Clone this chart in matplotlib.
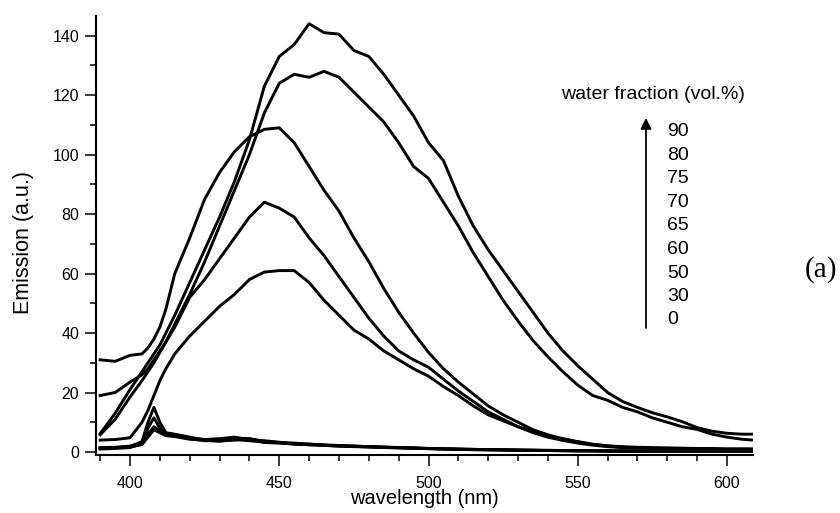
import matplotlib
matplotlib.use('Agg')
import matplotlib.pyplot as plt
from matplotlib.ticker import MultipleLocator

plt.rcParams['font.family'] = ['Liberation Sans', 'DejaVu Sans']

# emission spectra (a.u.)
wavelength = [390, 395, 400, 404, 406, 408, 410, 412, 415, 420, 425, 430, 435, 440,
              445, 450, 455, 460, 465, 470, 475, 480, 485, 490, 495, 500, 505, 510,
              515, 520, 525, 530, 535, 540, 545, 550, 555, 560, 565, 570, 575, 580,
              585, 590, 595, 600, 605, 609]

em_90 = [6.2, 13, 21, 27, 30, 33, 36, 40, 46, 57, 68, 79, 91, 105,
         123, 133, 137, 144, 141, 140.5, 135, 133, 127, 120, 113, 104, 98, 86,
         76, 68, 61, 54, 47, 40, 34, 29, 24.5, 20, 17, 15, 13.2, 11.8,
         10.2, 8.2, 7, 6.3, 6, 6]
em_80 = [5.8, 11, 18.5, 24, 27, 30, 33.5, 37, 43, 53, 64, 76, 88, 100,
         114, 124, 127, 126, 128, 126, 121, 116, 111, 104, 96, 92, 84, 76,
         67, 59, 51, 44, 37.5, 32, 27, 22.5, 19, 17.4, 15, 13.5, 11.5, 10,
         8.5, 7.6, 6, 5, 4.3, 4]
em_75 = [31, 30.5, 32.5, 33, 35, 38, 42, 48, 60, 72, 85, 94, 101, 106,
         108.5, 109, 104, 96, 88, 81, 72, 64, 55, 47, 40, 33.5, 28, 23.5,
         19.5, 15.5, 12.5, 10, 7.5, 5.8, 4.4, 3.4, 2.6, 2.1, 1.8, 1.6, 1.5, 1.4,
         1.3, 1.2, 1.2, 1.1, 1.1, 1.1]
em_70 = [19, 20, 23.5, 26, 28, 31, 34, 37, 42, 52, 58, 65, 72, 79,
         84, 82, 79, 72, 66, 59, 52, 45, 39, 34, 31, 28.5, 24.5, 20.5,
         17, 13.5, 11, 8.5, 6.5, 5, 3.9, 3, 2.3, 1.8, 1.5, 1.3, 1.2, 1.1,
         1, 0.9, 0.9, 0.8, 0.8, 0.8]
em_65 = [4, 4.2, 4.8, 10, 14, 19, 24, 28, 33, 39, 44, 49, 53, 58,
         60.5, 61, 61, 57, 51, 46, 41, 38, 34, 31, 28, 25.5, 22, 19,
         15.5, 12.5, 10.5, 8.5, 7, 5.5, 4.5, 3.5, 2.6, 2, 1.6, 1.4, 1.2, 1.1,
         1, 0.9, 0.8, 0.8, 0.7, 0.7]
em_60 = [1.2, 1.4, 1.8, 3.5, 10, 15, 10, 6.5, 6, 5, 4, 4, 4.5, 4.5,
         3.5, 3.2, 3, 2.6, 2.4, 2.2, 2, 1.8, 1.6, 1.5, 1.4, 1.2, 1.1, 1,
         0.9, 0.8, 0.7, 0.6, 0.6, 0.5, 0.5, 0.4, 0.4, 0.4, 0.3, 0.3, 0.3, 0.3,
         0.3, 0.3, 0.3, 0.3, 0.3, 0.3]
em_50 = [1.5, 1.6, 2, 3, 8, 11.5, 8, 6, 5.8, 4.8, 4.2, 4.5, 5, 4.2,
         3.8, 3.3, 2.8, 2.7, 2.3, 2.1, 2, 1.8, 1.7, 1.5, 1.3, 1.2, 1.1, 1,
         0.9, 0.8, 0.8, 0.7, 0.6, 0.6, 0.5, 0.5, 0.4, 0.4, 0.4, 0.3, 0.3, 0.3,
         0.3, 0.3, 0.3, 0.3, 0.3, 0.3]
em_30 = [1, 1.2, 1.5, 2.8, 6, 8.5, 7, 5.8, 5.5, 4.5, 3.8, 3.8, 4, 4.5,
         3.2, 3, 2.8, 2.4, 2.3, 2, 1.8, 1.7, 1.6, 1.4, 1.3, 1.1, 1, 0.9,
         0.8, 0.8, 0.7, 0.6, 0.5, 0.5, 0.4, 0.4, 0.4, 0.3, 0.3, 0.3, 0.3, 0.3,
         0.3, 0.3, 0.3, 0.3, 0.3, 0.3]
em_0 = [1.3, 1.5, 1.7, 2.5, 5, 7.5, 6.5, 5.5, 5.2, 4.3, 4, 3.6, 4.2, 3.8,
        3.3, 3.1, 2.6, 2.5, 2.2, 2, 1.9, 1.7, 1.5, 1.4, 1.3, 1.2, 1, 0.9,
        0.8, 0.7, 0.7, 0.6, 0.6, 0.5, 0.5, 0.4, 0.4, 0.3, 0.3, 0.3, 0.3, 0.3,
        0.3, 0.3, 0.3, 0.3, 0.3, 0.3]

spectra = [em_90, em_80, em_75, em_70, em_65, em_60, em_50, em_30, em_0]
water_fraction = ['90', '80', '75', '70', '65', '60', '50', '30', '0']

fig = plt.figure(figsize=(8.4, 5.13), dpi=100)
ax = fig.add_axes([96 / 840, 1 - 455 / 513, 657 / 840, 439 / 513])

for em in spectra:
    ax.plot(wavelength, em, color='black', lw=2.1, solid_joinstyle='round')

ax.set_xlim(388.6, 608.7)
ax.set_ylim(-1, 146.6)
ax.xaxis.set_major_locator(MultipleLocator(50))
ax.xaxis.set_minor_locator(MultipleLocator(10))
ax.yaxis.set_major_locator(MultipleLocator(20))
ax.yaxis.set_minor_locator(MultipleLocator(10))
ax.tick_params(which='major', direction='out', length=8, width=1.1, labelsize=11.5)
ax.tick_params(axis='x', which='major', pad=7)
ax.tick_params(axis='y', which='major', pad=4)
ax.tick_params(which='minor', direction='out', length=4, width=1.1)
for side in ['top', 'right']:
    ax.spines[side].set_visible(False)
for side in ['left', 'bottom']:
    ax.spines[side].set_linewidth(1.5)

ax.set_xlabel('wavelength (nm)', fontsize=14.5, va='center')
ax.xaxis.set_label_coords(0.5, -0.1)
ax.set_ylabel('Emission (a.u.)', fontsize=15.5, va='center')
ax.yaxis.set_label_coords(-0.11, 0.485)

# legend block on the right
fig.text(745 / 840, 1 - 95 / 513, 'water fraction (vol.%)', fontsize=14,
         ha='right', va='center')
ax.annotate('', xy=(646 / 840, 1 - 118 / 513), xytext=(646 / 840, 1 - 328 / 513),
            xycoords='figure fraction', textcoords='figure fraction',
            arrowprops=dict(arrowstyle='-|>', color='black', lw=1.3,
                            mutation_scale=16, shrinkA=0, shrinkB=0))
for i, label in enumerate(water_fraction):
    fig.text(667 / 840, 1 - (132 + i * 23.5) / 513, label, fontsize=14,
             ha='left', va='center')

fig.text(821 / 840, 1 - 270 / 513, '(a)', fontsize=21, family='Liberation Serif',
         ha='center', va='center')

fig.savefig('out.png', dpi=100)
